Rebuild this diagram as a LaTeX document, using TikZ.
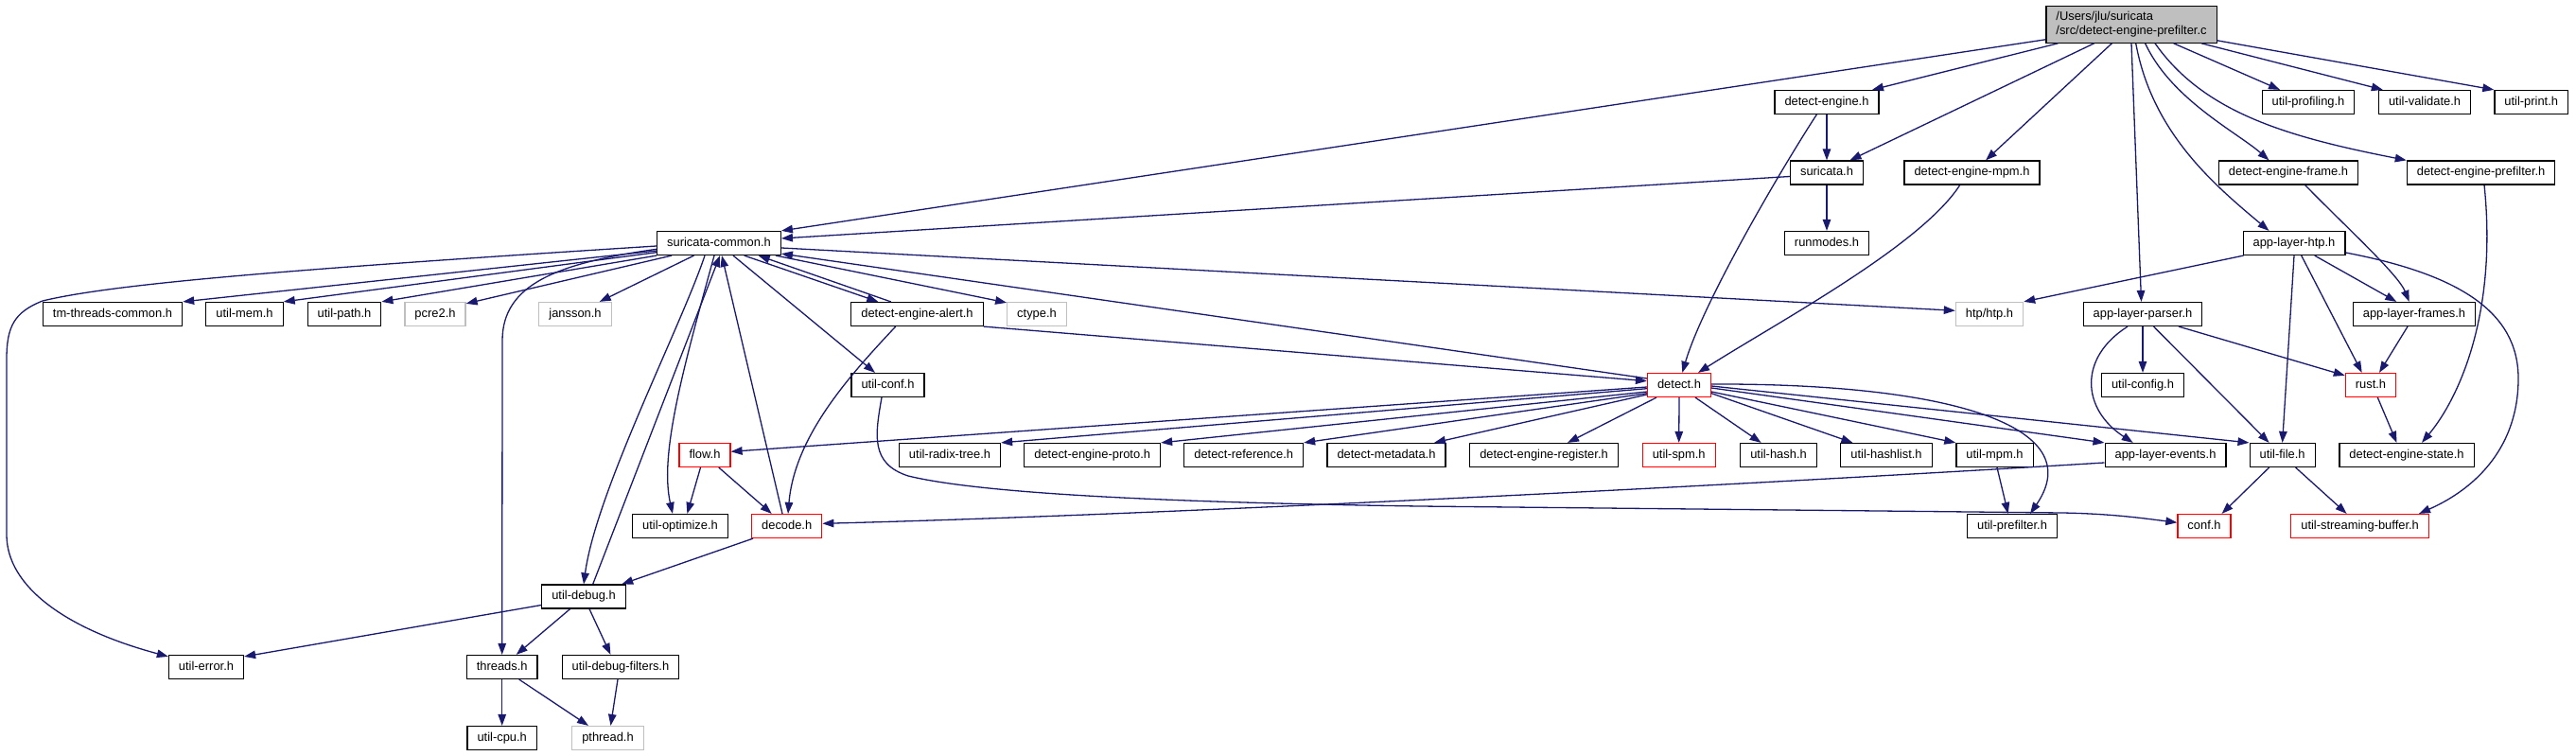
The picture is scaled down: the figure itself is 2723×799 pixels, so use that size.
\documentclass[tikz,border=0pt]{standalone}
\usepackage{fontspec}
\setmainfont{Liberation Sans}
\usetikzlibrary{arrows.meta}
\definecolor{edgec}{RGB}{25,25,112}
\definecolor{greyb}{RGB}{191,191,191}
\definecolor{redb}{RGB}{255,0,0}
\definecolor{topfill}{RGB}{191,191,191}
\begin{document}
\begin{tikzpicture}[x=1pt,y=-1pt,
  basebox/.style={draw=black,line width=1.2pt,fill=white,font=\fontsize{12.9pt}{15.3pt}\selectfont,inner xsep=10.5pt,inner ysep=0pt},
  box/.style={basebox,minimum height=25pt,text height=9.4pt,text depth=2.7pt},
  gbox/.style={box,draw=greyb},
  rbox/.style={box,draw=redb},
  topbox/.style={basebox,fill=topfill,align=left,minimum height=39pt},
  e/.style={draw=edgec,line width=1.3pt,-{Triangle[length=12pt,width=8.5pt]}}]
\path[use as bounding box] (0,0) rectangle (2723,799);

\node[topbox] (T) at (2253,25.7) {/Users/jlu/suricata\\/src/detect-engine-prefilter.c};
\node[box] (de) at (1931,108) {detect-engine.h};
\node[box] (prof) at (2440,108) {util-profiling.h};
\node[box] (valid) at (2563,108) {util-validate.h};
\node[box] (print) at (2675.7,108) {util-print.h};
\node[box] (sur) at (1931,182.5) {suricata.h};
\node[box] (mpm) at (2084.5,182.5) {detect-engine-mpm.h};
\node[box] (frame) at (2419,182.5) {detect-engine-frame.h};
\node[box] (pref) at (2622.6,182.5) {detect-engine-prefilter.h};
\node[box] (sc) at (760,257) {suricata-common.h};
\node[box] (run) at (1931,257) {runmodes.h};
\node[box] (htp) at (2425,257) {app-layer-htp.h};
\node[box] (tm) at (119,332) {tm-threads-common.h};
\node[box] (mem) at (258.5,332) {util-mem.h};
\node[box] (path) at (364,332) {util-path.h};
\node[gbox] (pcre) at (460,332) {pcre2.h};
\node[gbox] (jan) at (608,332) {jansson.h};
\node[box] (alert) at (969.5,332) {detect-engine-alert.h};
\node[gbox] (ctype) at (1096,332) {ctype.h};
\node[gbox] (htph) at (2103,332) {htp/htp.h};
\node[box] (parser) at (2265,332) {app-layer-parser.h};
\node[box] (frames) at (2552,332) {app-layer-frames.h};
\node[box] (uconf) at (938.5,407) {util-conf.h};
\node[rbox] (det) at (1775,407) {detect.h};
\node[box] (config) at (2265,407) {util-config.h};
\node[rbox] (rust) at (2506,407) {rust.h};
\node[rbox] (flow) at (745,481) {flow.h};
\node[box] (radix) at (1004,481) {util-radix-tree.h};
\node[box] (proto) at (1154.7,481) {detect-engine-proto.h};
\node[box] (ref) at (1314.7,481) {detect-reference.h};
\node[box] (meta) at (1465.5,481) {detect-metadata.h};
\node[box] (reg) at (1632,481) {detect-engine-register.h};
\node[rbox] (spm) at (1774.7,481) {util-spm.h};
\node[box] (hash) at (1880,481) {util-hash.h};
\node[box] (hlist) at (1994,481) {util-hashlist.h};
\node[box] (umpm) at (2108.5,481) {util-mpm.h};
\node[box] (events) at (2289,481) {app-layer-events.h};
\node[box] (file) at (2412.6,481) {util-file.h};
\node[box] (state) at (2544,481) {detect-engine-state.h};
\node[box] (opt) at (719,556) {util-optimize.h};
\node[rbox] (decode) at (831.7,556) {decode.h};
\node[box] (upf) at (2127,556) {util-prefilter.h};
\node[rbox] (conf) at (2330,556) {conf.h};
\node[rbox] (sb) at (2494.6,556) {util-streaming-buffer.h};
\node[box] (dbg) at (617,630.5) {util-debug.h};
\node[box] (err) at (218,705) {util-error.h};
\node[box] (thr) at (530.7,705) {threads.h};
\node[box] (dbgf) at (656,705) {util-debug-filters.h};
\node[box] (cpu) at (530.7,780) {util-cpu.h};
\node[gbox] (pth) at (642.5,780) {pthread.h};

% top file
\draw[e] ([yshift=4pt]T.south west) -- (sc.north east);
\draw[e] ([xshift=-77.5pt]T.south) -- ([xshift=48pt]de.north);
\draw[e] ([xshift=-39.3pt]T.south) -- ([xshift=24.5pt]sur.north);
\draw[e] ([xshift=-20.6pt]T.south) -- ([xshift=14.5pt]mpm.north);
\draw[e] (T.south) -- ([xshift=-1.5pt]parser.north);
\draw[e] ([xshift=4.7pt]T.south) .. controls (2275,140) and (2340,195) .. ([xshift=-26.5pt]htp.north);
\draw[e] ([xshift=14.6pt]T.south) .. controls (2295,105) and (2365,140) .. ([xshift=-20.5pt]frame.north);
\draw[e] ([xshift=25pt]T.south) .. controls (2330,120) and (2420,145) .. (pref.north west);
\draw[e] ([xshift=44.6pt]T.south) -- ([xshift=-30pt]prof.north);
\draw[e] ([xshift=74pt]T.south) -- ([xshift=-44.2pt]valid.north);
\draw[e] ([yshift=3pt]T.south east) -- (print.north west);

% second level
\draw[e] (de.south) -- (sur.north);
\draw[e] ([xshift=-10.7pt]de.south) .. controls (1882,180) and (1800,320) .. ([xshift=3.3pt]det.north);
\draw[e] ([yshift=-4pt]sur.west) -- ([yshift=5pt]sc.east);
\draw[e] (sur.south) -- (run.north);
\draw[e] ([xshift=-12.8pt]mpm.south) .. controls (2030,260) and (1880,340) .. ([xshift=20pt]det.north);
\draw[e] ([xshift=17.6pt]frame.south) .. controls (2480,240) and (2535,290) .. ([xshift=-5.3pt]frames.north);
\draw[e] ([xshift=3.4pt]pref.south) .. controls (2640,330) and (2600,420) .. ([xshift=16pt]state.north);

% app-layer-htp
\draw[e] ([xshift=1pt]htp.south west) -- (htph.north east);
\draw[e] ([xshift=21.7pt]htp.south) -- ([xshift=-18.7pt]frames.north);
\draw[e] ([xshift=7.7pt]htp.south) -- ([xshift=-9.3pt]rust.north);
\draw[e] (htp.south) -- (file.north);
\draw[e] ([yshift=-10pt]htp.east) .. controls (2600,290) and (2662,330) .. (2662,400) .. controls (2662,470) and (2620,515) .. ([xshift=62.4pt]sb.north);

% app-layer-parser
\draw[e] (parser.south) -- (config.north);
\draw[e] ([xshift=-16pt]parser.south) .. controls (2197,378) and (2200,432) .. ([xshift=-34.3pt]events.north);
\draw[e] ([xshift=11.5pt]parser.south) -- ([xshift=-14pt]file.north);
\draw[e] ([xshift=38pt]parser.south) -- ([yshift=-3pt]rust.north west);
\draw[e] ([xshift=-7pt]frames.south) -- ([xshift=9pt]rust.north);
\draw[e] ([xshift=7.3pt]rust.south) -- ([xshift=-10.5pt]state.north);

% suricata-common
\draw[e] ([yshift=-8pt]sc.west) -- (tm.north east);
\draw[e] ([yshift=-9.7pt]sc.west) -- (mem.north east);
\draw[e] (sc.south west) -- (path.north east);
\draw[e] ([xshift=-50pt]sc.south) -- ([yshift=-2pt]pcre.north east);
\draw[e] ([xshift=-26.5pt]sc.south) -- ([xshift=25.7pt]jan.north);
\draw[e] ([yshift=-3pt]sc.west) .. controls (300,285) and (120,300) .. (45,318) .. controls (15,330) and (7,345) .. (7,380) -- (7,565) .. controls (7,620) and (70,665) .. ([yshift=-2pt]err.north west);
\draw[e] ([xshift=26.7pt]sc.south) -- ([xshift=-41.2pt]alert.north);
\draw[e] ([xshift=-27.8pt]alert.north) -- ([xshift=41.7pt]sc.south);
\draw[e] ([xshift=60pt]sc.south) -- ([yshift=-1pt]ctype.north west);
\draw[e] ([yshift=-5pt]sc.east) -- ([yshift=3.7pt]htph.west);
\draw[e] ([yshift=7pt]det.west) -- ([yshift=2pt]sc.south east);
\draw[e] ([xshift=15pt]sc.south) -- ([xshift=-13.5pt]uconf.north);
\draw[e] ([yshift=-6.3pt]sc.west) .. controls (590,278) and (531,300) .. (531,360) -- (thr.north);
\draw[e] ([xshift=-15pt]sc.south) .. controls (720,345) and (630,520) .. (dbg.north);
\draw[e] ([xshift=9.7pt]dbg.north) -- ([xshift=1pt]sc.south);
\draw[e] ([xshift=-5pt]sc.south) .. controls (722,390) and (697,480) .. ([xshift=-8pt]opt.north);
\draw[e] ([xshift=-4.7pt]decode.north) -- ([xshift=3pt]sc.south);
\draw[e] (alert.south east) -- ([yshift=4.3pt]det.west);
\draw[e] ([xshift=-22.8pt]alert.south) .. controls (900,395) and (840,460) .. ([xshift=1.3pt]decode.north);

% detect.h
\draw[e] ([yshift=-3.7pt]det.west) -- (radix.north east);
\draw[e] ([yshift=-2pt]det.west) -- ([yshift=3.7pt]flow.east);
\draw[e] ([yshift=-7pt]det.west) -- (proto.north east);
\draw[e] ([yshift=-8.7pt]det.west) -- (ref.north east);
\draw[e] ([yshift=-10pt]det.west) -- ([xshift=50.5pt]meta.north);
\draw[e] ([xshift=-24pt]det.south) -- ([xshift=25pt]reg.north);
\draw[e] (det.south) -- (spm.north);
\draw[e] ([xshift=17pt]det.south) -- ([xshift=-18.4pt]hash.north);
\draw[e] ([yshift=-8.7pt]det.east) -- ([xshift=-35.6pt]hlist.north);
\draw[e] ([yshift=-7pt]det.east) -- (umpm.north west);
\draw[e] ([yshift=-3pt]det.east) -- (events.north west);
\draw[e] ([yshift=-1pt]det.east) -- (file.north west);
\draw[e] ([yshift=1pt]det.east) .. controls (2060,405) and (2210,450) .. ([xshift=19pt]upf.north);

% lower levels
\draw[e] ([xshift=-4.5pt]flow.south) -- ([xshift=7.4pt]opt.north);
\draw[e] ([xshift=14.8pt]flow.south) -- ([xshift=-16pt]decode.north);
\draw[e] ([xshift=2pt]decode.south west) -- ([xshift=40.2pt]dbg.north);
\draw[e] ([yshift=-9pt]dbg.west) -- ([yshift=-2pt]err.north east);
\draw[e] ([xshift=-14.4pt]dbg.south) -- ([xshift=15pt]thr.north);
\draw[e] ([xshift=6pt]dbg.south) -- ([xshift=-10.6pt]dbgf.north);
\draw[e] (thr.south) -- (cpu.north);
\draw[e] ([xshift=18pt]thr.south) -- ([xshift=-20.5pt]pth.north);
\draw[e] ([xshift=-3pt]dbgf.south) -- ([xshift=3pt]pth.north);
\draw[e] ([xshift=2.5pt]umpm.south) -- ([xshift=-4.3pt]upf.north);
\draw[e] ([yshift=-8pt]events.west) .. controls (1800,515) and (1200,545) .. ([yshift=2.7pt]decode.east);
\draw[e] ([xshift=-6.5pt]uconf.south) .. controls (925,460) and (920,490) .. (960,503) .. controls (1050,525) and (1300,532) .. (1500,535) -- (2180,542) .. controls (2230,543) and (2260,547) .. ([yshift=3.7pt]conf.west);
\draw[e] ([xshift=-14pt]file.south) -- ([xshift=18.6pt]conf.north);
\draw[e] ([xshift=14pt]file.south) -- ([xshift=-14pt]sb.north);
\end{tikzpicture}
\end{document}
